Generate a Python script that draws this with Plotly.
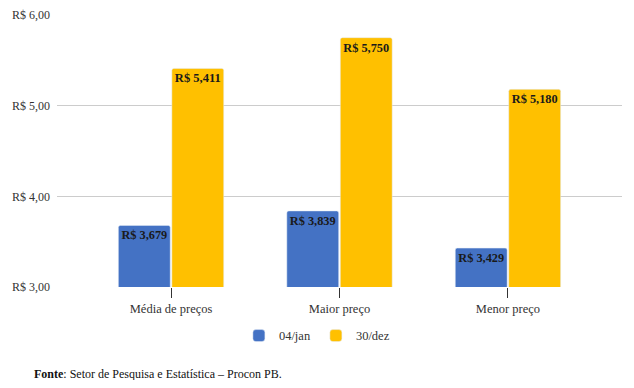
import plotly.graph_objects as go

categories = ["Média de preços", "Maior preço", "Menor preço"]
jan_values = [3.679, 3.839, 3.429]
dez_values = [5.411, 5.750, 5.180]
series_names = ["04/jan", "30/dez"]
y_ticks = [3, 4, 5, 6]
y_tick_labels = ["R$ 3,00", "R$ 4,00", "R$ 5,00", "R$ 6,00"]

def fmt(v):
    return "R$ " + f"{v:.3f}".replace(".", ",")

FONT = "Liberation Serif, DejaVu Serif, serif"
fig = go.Figure()
for name, vals, color in [(series_names[0], jan_values, "#4472C4"),
                          (series_names[1], dez_values, "#FFC000")]:
    fig.add_trace(go.Bar(
        x=categories, y=vals, name=name, marker_color=color,
        text=[fmt(v) for v in vals], textposition="inside",
        insidetextanchor="end", textangle=0,
        textfont=dict(family=FONT, size=12.5, color="#1a1a1a", weight="bold"),
    ))

# page body has an 8px default margin, so the figure is offset by 8px
fig.update_layout(
    width=618, height=372,
    margin=dict(l=49, r=4, t=7, b=93, autoexpand=False),
    paper_bgcolor="white", plot_bgcolor="white",
    font=dict(family=FONT, size=12.5, color="#333333"),
    barmode="group", bargap=0.365, bargroupgap=0.03,
    barcornerradius=2,
    showlegend=True,
    legend=dict(orientation="h", x=0.46, xanchor="center", y=-0.18, yanchor="middle",
                font=dict(family=FONT, size=12.5, color="#333333"), itemwidth=30),
    xaxis=dict(range=[-0.677, 2.677], ticks="outside", ticklen=10, tickcolor="#333333",
               tickwidth=1, showgrid=False, showline=False, zeroline=False,
               automargin=False,
               tickfont=dict(family=FONT, size=12.5, color="#333333")),
    yaxis=dict(range=[3, 6], tickvals=y_ticks, ticktext=y_tick_labels,
               showgrid=True, gridcolor="#cccccc", gridwidth=1, zeroline=False,
               showline=False, ticks="", ticklabelstandoff=6, automargin=False,
               tickfont=dict(family=FONT, size=12, color="#333333")),
    annotations=[dict(text="<b>Fonte</b>: Setor de Pesquisa e Estatística – Procon PB.",
                      xref="paper", yref="paper", x=-0.044, y=-0.32,
                      xanchor="left", yanchor="middle", showarrow=False,
                      font=dict(family=FONT, size=12, color="#111111"))],
)
fig.update_traces(cliponaxis=False)
fig.write_html("out.html")
